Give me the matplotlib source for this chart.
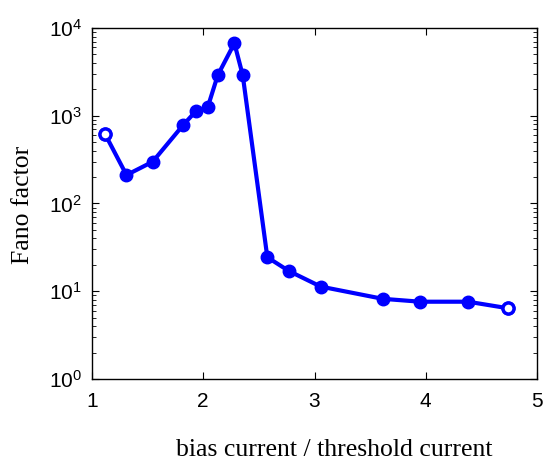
import matplotlib
matplotlib.use("Agg")
import matplotlib.pyplot as plt
from matplotlib.ticker import LogLocator, NullFormatter

# values
ratio = [1.117, 1.31, 1.545, 1.82, 1.935, 2.04, 2.13, 2.28, 2.355,
         2.576, 2.77, 3.056, 3.613, 3.95, 4.38, 4.74]
fano = [620, 211, 299, 785, 1133, 1248, 2890, 6700, 2890,
        24.4, 17.0, 11.3, 8.2, 7.6, 7.6, 6.4]
open_idx = [0, len(ratio) - 1]

plt.rcParams["font.family"] = ["Liberation Sans", "DejaVu Sans"]
plt.rcParams["mathtext.fontset"] = "custom"
plt.rcParams["mathtext.rm"] = "Liberation Sans"

W, H = 544, 465
fig = plt.figure(figsize=(W / 100, H / 100), dpi=100)
ax = fig.add_axes([92 / W, 1 - 379 / H, 445 / W, 351 / H])

blue = (0, 0, 1)
ax.plot(ratio, fano, color=blue, lw=3, marker="o", ms=9, mfc=blue, mec=blue, zorder=2)
ax.plot([ratio[i] for i in open_idx], [fano[i] for i in open_idx], ls="none",
        marker="o", ms=8, mfc="white", mec=blue, mew=2.5, zorder=3)

ax.set_yscale("log")
ax.set_xlim(1, 5)
ax.set_ylim(1, 1e4)
ax.set_xticks([1, 2, 3, 4, 5])
ax.yaxis.set_major_locator(LogLocator(base=10, numticks=10))
ax.yaxis.set_minor_locator(LogLocator(base=10, subs=range(2, 10), numticks=20))
ax.yaxis.set_minor_formatter(NullFormatter())

ax.tick_params(which="both", direction="in", top=True, right=True, labelsize=15)
ax.tick_params(which="major", length=5, width=0.8)
ax.tick_params(which="minor", length=3, width=0.6)
ax.tick_params(axis="x", pad=9)
ax.tick_params(axis="y", pad=7)
for s in ax.spines.values():
    s.set_linewidth(1.0)

fig.text(334 / W, 1 - 456 / H, "bias current / threshold current",
         family="Liberation Serif", fontsize=18.5, ha="center", va="baseline")
fig.text(23 / W, 1 - 205 / H, "Fano factor", family="Liberation Serif",
         fontsize=18.5, rotation=90, ha="center", va="center")

fig.savefig("out.png", dpi=100)
